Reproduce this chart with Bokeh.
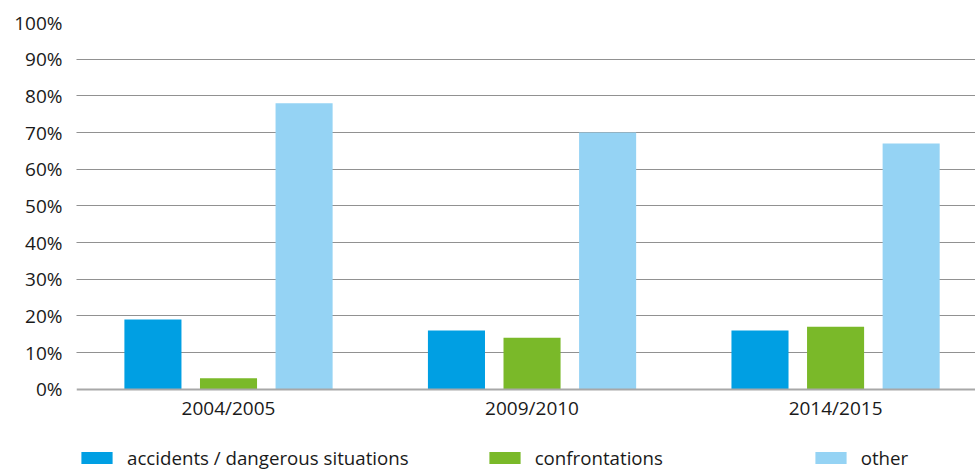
from bokeh.plotting import figure
from bokeh.models import ColumnDataSource, Range1d, FixedTicker, Legend, LegendItem
from bokeh.transform import dodge
from bokeh.embed import file_html
from bokeh.resources import INLINE

# ---- data ----
periods = ["2004/2005", "2009/2010", "2014/2015"]
accidents = [19, 16, 16]
confrontations = [3, 14, 17]
other = [78, 70, 67]
series_names = ["accidents / dangerous situations", "confrontations", "other"]
y_ticks = [0, 10, 20, 30, 40, 50, 60, 70, 80, 90, 100]
y_tick_labels = [f"{t}%" for t in y_ticks]

colors = ["#009fe3", "#7ab929", "#95d3f4"]
FONT = "Open Sans"

src = ColumnDataSource(dict(
    x=list(range(len(periods))),
    accidents=accidents,
    confrontations=confrontations,
    other=other,
))

p = figure(width=975, height=471, output_backend="svg", toolbar_location=None,
           x_range=Range1d(-0.5008, 2.461), y_range=Range1d(-22.45, 100),
           min_border_left=76, min_border_right=0, min_border_top=22,
           min_border_bottom=0)
p.outline_line_color = None
p.background_fill_color = "white"
p.border_fill_color = "white"

bar_w = 0.188
renderers = []
for key, off, col in zip(["accidents", "confrontations", "other"], [-0.249, 0.0, 0.249], colors):
    r = p.vbar(x=dodge("x", off, range=p.x_range), top=key, width=bar_w, bottom=0,
               source=src, fill_color=col, line_color=None)
    renderers.append(r)

# axes
p.yaxis.ticker = FixedTicker(ticks=y_ticks)
p.yaxis.major_label_overrides = {t: l for t, l in zip(y_ticks, y_tick_labels)}
p.yaxis.axis_line_color = None
p.yaxis.major_tick_line_color = None
p.yaxis.minor_tick_line_color = None
p.yaxis.major_tick_out = 0
p.yaxis.major_tick_in = 0
p.yaxis.major_label_standoff = 14
p.yaxis.major_label_text_font = FONT
p.yaxis.major_label_text_font_size = "19px"
p.yaxis.major_label_text_color = "#1a1a1a"

p.xaxis.fixed_location = 0
p.xaxis.ticker = FixedTicker(ticks=list(range(len(periods))))
p.xaxis.major_label_overrides = {i: n for i, n in enumerate(periods)}
p.xaxis.axis_line_color = "#a8a8a8"
p.xaxis.axis_line_width = 2
p.xaxis.major_tick_line_color = None
p.xaxis.minor_tick_line_color = None
p.xaxis.major_tick_out = 0
p.xaxis.major_tick_in = 0
p.xaxis.major_label_standoff = 6
p.xaxis.major_label_text_font = FONT
p.xaxis.major_label_text_font_size = "19px"
p.xaxis.major_label_text_color = "#1a1a1a"

p.xgrid.grid_line_color = None
p.ygrid.ticker = FixedTicker(ticks=y_ticks[1:])
p.ygrid.grid_line_color = "#222222"
p.ygrid.grid_line_dash = "1 1"
p.ygrid.grid_line_width = 1

legend = Legend(items=[LegendItem(label=n, renderers=[r]) for n, r in zip(series_names, renderers)],
                orientation="horizontal", location=(1, 1),
                glyph_width=39, glyph_height=15, label_standoff=11,
                spacing=76, label_width=200, padding=0, margin=0,
                label_text_font=FONT, label_text_font_size="18.7px",
                label_text_color="#1a1a1a", border_line_color=None,
                background_fill_alpha=0)
p.add_layout(legend, "center")

open("out.html", "w").write(file_html(p, INLINE))
